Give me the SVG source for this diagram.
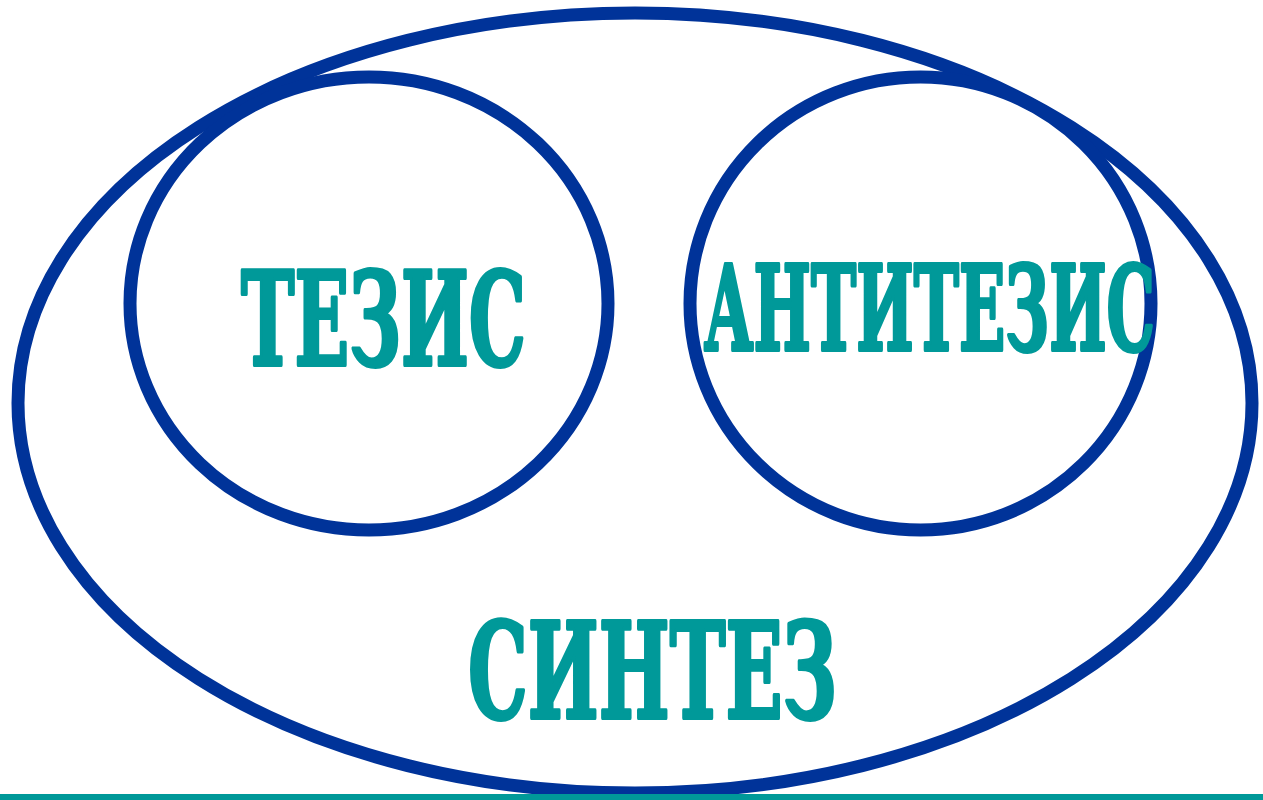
<svg xmlns="http://www.w3.org/2000/svg" width="1263" height="800" viewBox="0 0 1263 800">
<style>
.ring{fill:none;stroke:#003399;stroke-width:13}
.lbl{font-family:"DejaVu Serif","Liberation Serif",serif;font-weight:bold;fill:#009999;stroke:#009999;stroke-width:4;stroke-linejoin:round}
</style>
<rect width="1263" height="800" fill="#ffffff"/>
<g id="synthesis">
<ellipse class="ring" cx="635" cy="403" rx="617" ry="390"/>
<text class="lbl" x="468" y="718" font-size="133" textLength="369" lengthAdjust="spacingAndGlyphs">СИНТЕЗ</text>
</g>
<g id="thesis">
<ellipse class="ring" cx="369" cy="303.5" rx="239" ry="226.5"/>
<text class="lbl" x="241" y="365" font-size="130" textLength="285" lengthAdjust="spacingAndGlyphs">ТЕЗИС</text>
</g>
<g id="antithesis">
<ellipse class="ring" cx="920.5" cy="303.5" rx="230.5" ry="226.5"/>
<text class="lbl" x="704" y="350" font-size="117" textLength="451" lengthAdjust="spacingAndGlyphs">АНТИТЕЗИС</text>
</g>
<rect id="baseline-rule" x="0" y="794" width="1263" height="6" fill="#009999"/>
</svg>
